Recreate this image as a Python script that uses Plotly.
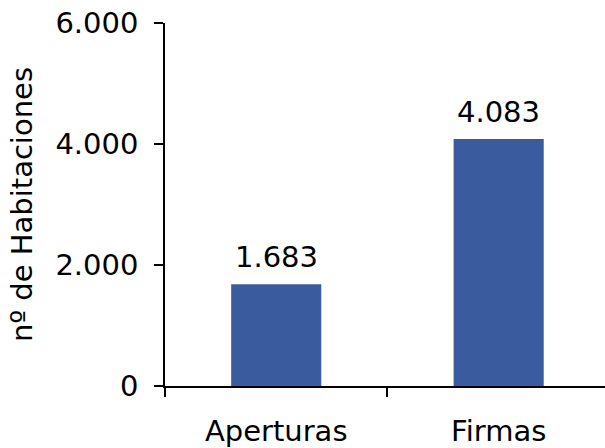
import plotly.graph_objects as go

categories = ["Aperturas", "Firmas"]
values = [1683, 4083]
value_labels = ["1.683", "4.083"]
y_tickvals = [0, 2000, 4000, 6000]
y_ticktext = ["0", "2.000", "4.000", "6.000"]

bar_color = "#3A5B9D"
font_family = "DejaVu Sans, Verdana, sans-serif"

fig = go.Figure(
    go.Bar(
        x=categories,
        y=values,
        marker=dict(color=bar_color, line=dict(width=0)),
        width=0.405,
        hoverinfo="skip",
    )
)

# value labels above each bar
for cat, val, lab in zip(categories, values, value_labels):
    fig.add_annotation(
        x=cat, y=val, text=lab, showarrow=False,
        yanchor="bottom", yshift=8,
        font=dict(size=29, color="black", family=font_family),
    )

fig.update_layout(
    width=605, height=448,
    margin=dict(l=165, r=0, t=23, b=62),
    paper_bgcolor="white", plot_bgcolor="white",
    showlegend=False,
    font=dict(family=font_family, size=29, color="black"),
    xaxis=dict(
        range=[-0.5, 1.478],
        showline=True, linecolor="black", linewidth=1.5,
        ticks="outside", ticklen=9, tickwidth=1.5, tickcolor="black",
        tickson="boundaries",
        ticklabelstandoff=18,
        showgrid=False, zeroline=False,
        tickfont=dict(size=29),
    ),
    yaxis=dict(
        range=[0, 6000],
        tickvals=y_tickvals, ticktext=y_ticktext,
        showline=True, linecolor="black", linewidth=1.5,
        ticks="outside", ticklen=9, tickwidth=1.5, tickcolor="black",
        ticklabelstandoff=10,
        showgrid=False, zeroline=False,
        tickfont=dict(size=29),
        title=dict(text="nº de Habitaciones", font=dict(size=29), standoff=14),
    ),
)

fig.write_html("out.html")
